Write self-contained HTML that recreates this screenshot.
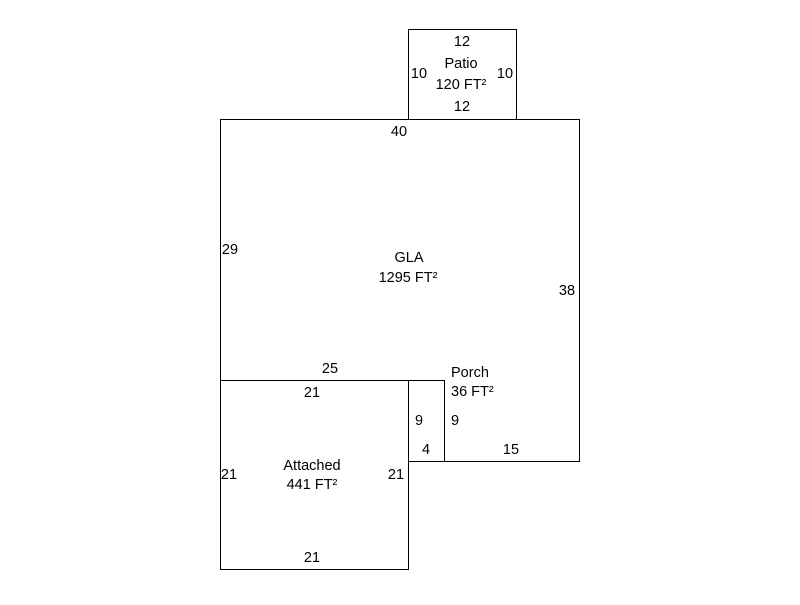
<!DOCTYPE html>
<html><head><style>body{margin:0;background:#fff}svg text{font-family:"Liberation Sans",sans-serif;font-size:14.5px;fill:#000}</style></head>
<body>
<svg width="800" height="600" xmlns="http://www.w3.org/2000/svg">
<g fill="none" stroke="#000" stroke-width="1">
<rect x="408.5" y="29.5" width="108" height="90"/>
<polyline points="220.5,380.5 220.5,119.5 579.5,119.5 579.5,461.5 444.5,461.5"/>
<rect x="408.5" y="380.5" width="36" height="81"/>
<rect x="220.5" y="380.5" width="188" height="189"/>
</g>
<g text-anchor="middle">
<text x="462" y="46">12</text>
<text x="461" y="68">Patio</text>
<text x="461" y="89">120 FT²</text>
<text x="462" y="111">12</text>
<text x="419" y="78">10</text>
<text x="505" y="78">10</text>
<text x="399" y="136">40</text>
<text x="230" y="254">29</text>
<text x="409" y="262">GLA</text>
<text x="408" y="282">1295 FT²</text>
<text x="567" y="295">38</text>
<text x="330" y="373">25</text>
<text x="312" y="397">21</text>
<text x="419" y="425">9</text>
<text x="455" y="425">9</text>
<text x="426" y="454">4</text>
<text x="511" y="454">15</text>
<text x="229" y="479">21</text>
<text x="396" y="479">21</text>
<text x="312" y="470">Attached</text>
<text x="312" y="489">441 FT²</text>
<text x="312" y="562">21</text>
</g>
<text x="451" y="377">Porch</text>
<text x="451" y="396">36 FT²</text>
</svg>
</body></html>
